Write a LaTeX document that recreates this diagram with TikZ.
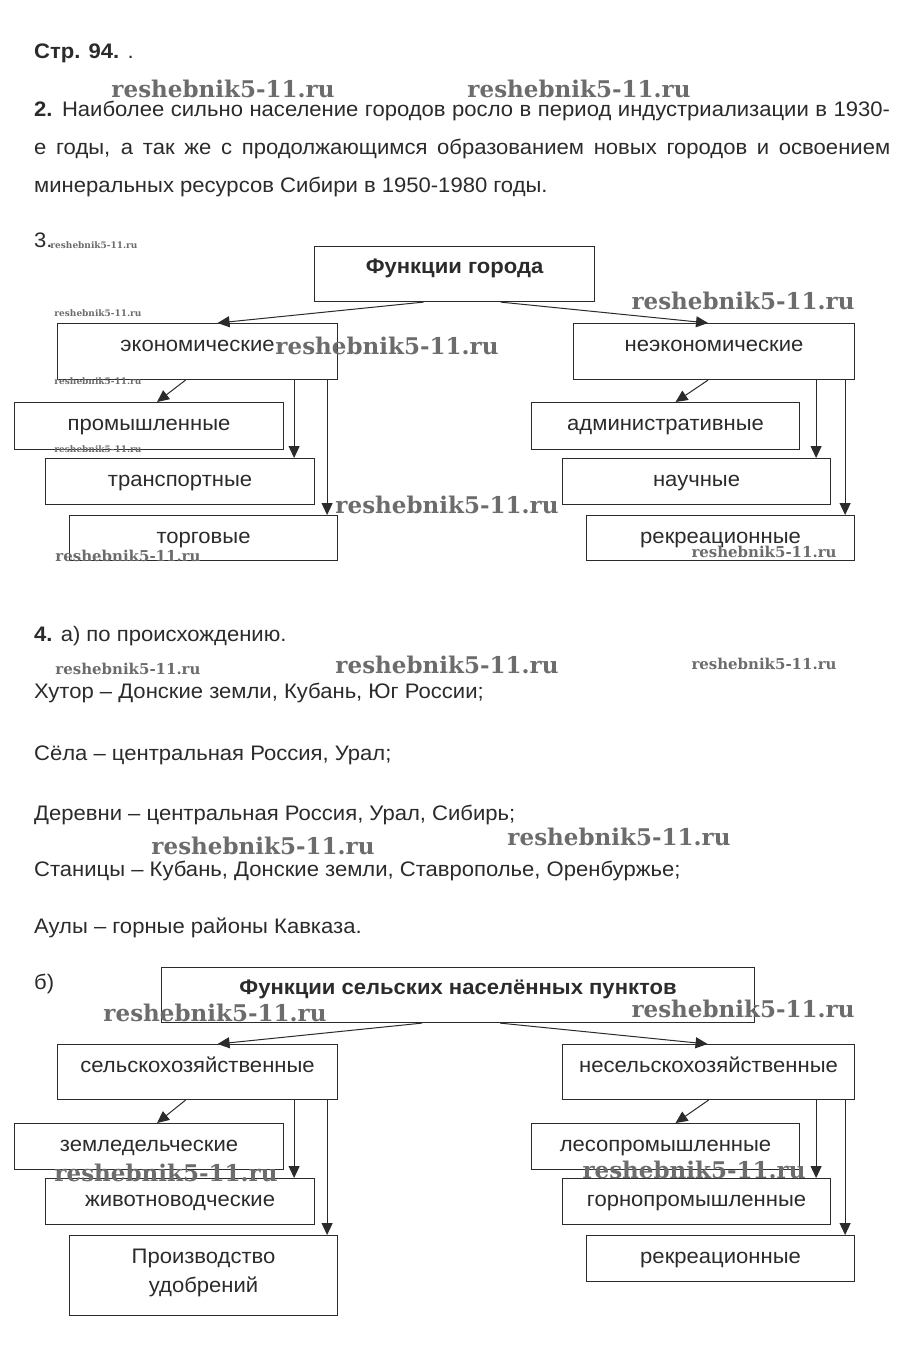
\documentclass[tikz,border=0pt]{standalone}
\usepackage{fontspec}
\usepackage{graphicx}
\setmainfont{Liberation Sans}[FakeStretch=1.05]
\newfontfamily\wmfont{DejaVu Serif}
\usetikzlibrary{arrows.meta}
\definecolor{ink}{HTML}{2B2B2B}
\definecolor{wmgray}{HTML}{6C6C6C}
\newcommand\wmtext[1]{\resizebox{#1}{!}{\wmfont\bfseries reshebnik5-11.ru}}
\begin{document}
\begin{tikzpicture}[x=1pt,y=-1pt,
  txt/.style={anchor=base west, inner sep=0pt, text=ink, font=\fontsize{21}{25}\selectfont},
  box/.style={draw=ink, line width=1.1pt, anchor=north west, inner xsep=0pt, inner ysep=0pt,
    text=ink, font=\fontsize{21}{29}\selectfont, text height=28pt},
  ttl/.style={box, font=\fontsize{21}{25}\selectfont\bfseries, text height=27pt},
  arr/.style={draw=ink, line width=1pt, -{Triangle[length=12pt,width=11pt]}},
  wm/.style={inner sep=0pt, text=wmgray, anchor=center}]
\useasboundingbox (0,0) rectangle (900,1362);
\fill[white] (0,0) rectangle (900,1362);

% ---- text ----
\node[txt] (hdr) at (34,59) {\textbf{Стр. 94.} .};
\node[txt] (p1) at (34,117) {\makebox[856pt][s]{\textbf{2.} Наиболее сильно население городов росло в период индустриализации в 1930-}};
\node[txt] (p2) at (34,154) {\makebox[856pt][s]{е годы, а так же с продолжающимся образованием новых городов и освоением}};
\node[txt] (p3) at (34,192) {минеральных ресурсов Сибири в 1950-1980 годы.};
\node[txt] (n3) at (34,247) {3.};

% ---- diagram 1 ----
\node[ttl, minimum width=280pt, text depth=28pt] (city) at (314,246) {Функции города};
\node[box, minimum width=280pt, text depth=28pt] (eco) at (57,323) {экономические};
\node[box, minimum width=281pt, text depth=28pt] (neco) at (573,323) {неэкономические};
\node[box, minimum width=269pt, text depth=19pt] (prom) at (14,402) {промышленные};
\node[box, minimum width=269pt, text depth=18pt] (trans) at (45,458) {транспортные};
\node[box, minimum width=268pt, text depth=17pt] (torg) at (69,515) {торговые};
\node[box, minimum width=268pt, text depth=19pt] (adm) at (531,402) {административные};
\node[box, minimum width=268pt, text depth=18pt] (nauch) at (562,458) {научные};
\node[box, minimum width=268pt, text depth=17pt] (rekr) at (586,515) {рекреационные};

\draw[arr] ([xshift=-31pt]city.south) -- ([xshift=20pt]eco.north);
\draw[arr] ([xshift=46pt]city.south) -- ([xshift=-6pt]neco.north);
\draw[arr] ([xshift=-12pt]eco.south) -- ([xshift=8pt]prom.north);
\draw[arr] ([xshift=-21pt]trans.north east |- eco.south) -- ([xshift=-21pt]trans.north east);
\draw[arr] ([xshift=-11pt]torg.north east |- eco.south) -- ([xshift=-11pt]torg.north east);
\draw[arr] ([xshift=-6pt]neco.south) -- ([xshift=10pt]adm.north);
\draw[arr] ([xshift=-15pt]nauch.north east |- neco.south) -- ([xshift=-15pt]nauch.north east);
\draw[arr] ([xshift=-10pt]rekr.north east |- neco.south) -- ([xshift=-10pt]rekr.north east);

% ---- section 4 ----
\node[txt] (s4) at (34,641) {\textbf{4.} а) по происхождению.};
\node[txt] (l1) at (34,698) {Хутор – Донские земли, Кубань, Юг России;};
\node[txt] (l2) at (34,760) {Сёла – центральная Россия, Урал;};
\node[txt] (l3) at (34,820) {Деревни – центральная Россия, Урал, Сибирь;};
\node[txt] (l4) at (34,876) {Станицы – Кубань, Донские земли, Ставрополье, Оренбуржье;};
\node[txt] (l5) at (34,933) {Аулы – горные районы Кавказа.};
\node[txt] (sb) at (34,989) {б)};

% ---- diagram 2 ----
\node[ttl, minimum width=593pt, text depth=28pt] (rural) at (161,967) {Функции сельских населённых пунктов};
\node[box, minimum width=280pt, text depth=27pt] (sh) at (57,1044) {сельскохозяйственные};
\node[box, minimum width=292pt, text depth=27pt] (nsh) at (562,1044) {несельскохозяйственные};
\node[box, minimum width=269pt, text depth=18pt] (zeml) at (14,1123) {земледельческие};
\node[box, minimum width=269pt, text depth=18pt] (zhiv) at (45,1178) {животноводческие};
\node[box, minimum width=268pt, text depth=52pt] (proizv) at (69,1235) {\begin{tabular}[t]{@{}c@{}}Производство\\удобрений\end{tabular}};
\node[box, minimum width=268pt, text depth=18pt] (les) at (531,1123) {лесопромышленные};
\node[box, minimum width=268pt, text depth=18pt] (gorn) at (562,1178) {горнопромышленные};
\node[box, minimum width=268pt, text depth=18pt] (rekr2) at (586,1235) {рекреационные};

\draw[arr] ([xshift=-36pt]rural.south) -- ([xshift=20pt]sh.north);
\draw[arr] ([xshift=42pt]rural.south) -- ([xshift=-1pt]nsh.north);
\draw[arr] ([xshift=-12pt]sh.south) -- ([xshift=8pt]zeml.north);
\draw[arr] ([xshift=-21pt]zhiv.north east |- sh.south) -- ([xshift=-21pt]zhiv.north east);
\draw[arr] ([xshift=-11pt]proizv.north east |- sh.south) -- ([xshift=-11pt]proizv.north east);
\draw[arr] (nsh.south) -- ([xshift=10pt]les.north);
\draw[arr] ([xshift=-15pt]gorn.north east |- nsh.south) -- ([xshift=-15pt]gorn.north east);
\draw[arr] ([xshift=-10pt]rekr2.north east |- nsh.south) -- ([xshift=-10pt]rekr2.north east);

% ---- watermarks ----
\node[wm] (w1) at (223,89) {\wmtext{223pt}};
\node[wm] (w2) at (579,89) {\wmtext{223pt}};
\node[wm] (w3) at (743,301) {\wmtext{223pt}};
\node[wm] (w4) at (387,346) {\wmtext{223pt}};
\node[wm] (w5) at (447,505) {\wmtext{223pt}};
\node[wm] (w6) at (447,665) {\wmtext{223pt}};
\node[wm] (w7) at (263,846) {\wmtext{223pt}};
\node[wm] (w8) at (619,837) {\wmtext{223pt}};
\node[wm] (w9) at (215,1013) {\wmtext{223pt}};
\node[wm] (w10) at (743,1009) {\wmtext{223pt}};
\node[wm] (w11) at (166,1173) {\wmtext{223pt}};
\node[wm] (w12) at (694,1170) {\wmtext{223pt}};
\node[wm] (m1) at (128,556) {\wmtext{145pt}};
\node[wm] (m2) at (128,669) {\wmtext{145pt}};
\node[wm] (m3) at (764,664) {\wmtext{145pt}};
\node[wm] (m4) at (764,552) {\wmtext{145pt}};
\node[wm] (s1) at (94,245) {\wmtext{87pt}};
\node[wm] (s2) at (98,313) {\wmtext{87pt}};
\node[wm] (s3) at (98,381) {\wmtext{87pt}};
\node[wm] (s4w) at (98,449) {\wmtext{87pt}};
\end{tikzpicture}
\end{document}
